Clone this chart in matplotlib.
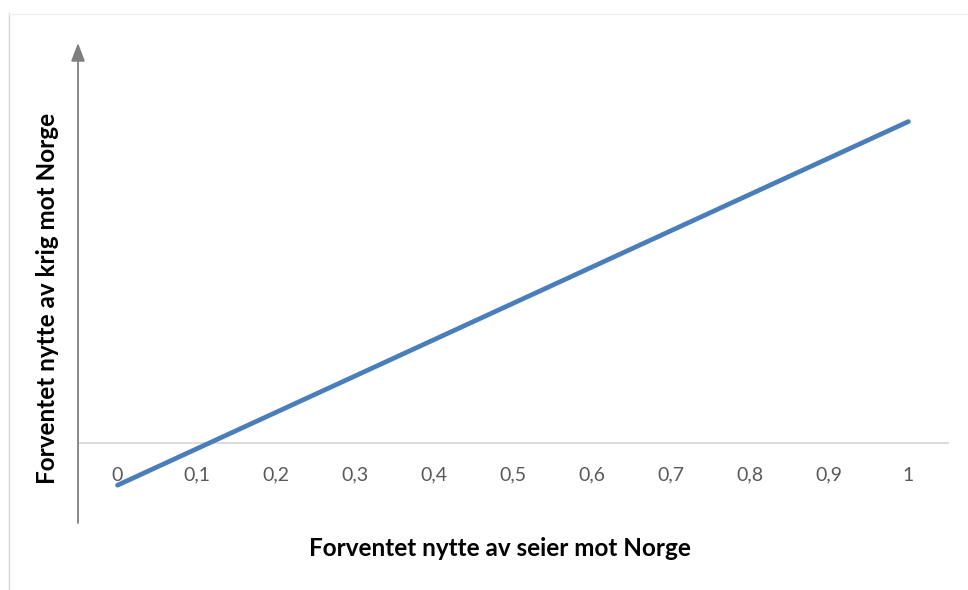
import matplotlib
matplotlib.use("Agg")
import matplotlib.pyplot as plt
from matplotlib.lines import Line2D

categories = ["0", "0,1", "0,2", "0,3", "0,4", "0,5", "0,6", "0,7", "0,8", "0,9", "1"]
values = [-1.16, -0.16, 0.84, 1.84, 2.84, 3.84, 4.84, 5.84, 6.84, 7.84, 8.84]
x_title = "Forventet nytte av seier mot Norge"
y_title = "Forventet nytte av krig mot Norge"

plt.rcParams['font.family'] = ['Lato', 'DejaVu Sans']

W, H = 968, 590
fig = plt.figure(figsize=(W / 100, H / 100), dpi=100)
ax = fig.add_axes([78 / W, 1 - 523 / H, (948 - 78) / W, (523 - 43) / H])

xs = list(range(len(categories)))
ax.plot(xs, values, color="#4a7ebb", linewidth=3.4, solid_capstyle="round", zorder=3)

ax.set_xlim(-0.5, len(categories) - 0.5)
ax.set_ylim(-2.2, 11.0)

for s in ["top", "right"]:
    ax.spines[s].set_visible(False)
ax.spines["left"].set_visible(False)
ax.spines["bottom"].set_position(("data", 0))
ax.spines["bottom"].set_color("#d9d9d9")
ax.spines["bottom"].set_linewidth(1.3)

ax.set_xticks(xs)
ax.set_xticklabels(categories)
ax.tick_params(axis="x", length=0, pad=17, labelsize=14, labelcolor="#595959")
ax.set_yticks([])

# vertical axis with arrow
ax.annotate("", xy=(0, 1.0), xycoords="axes fraction", xytext=(0, 0), textcoords="axes fraction",
            arrowprops=dict(arrowstyle="-|>,head_length=1.1,head_width=0.42", color="#7f7f7f",
                            lw=1.3, shrinkA=0, shrinkB=0))

fig.text(500 / W, 1 - 549 / H, x_title, ha="center", va="center", fontsize=17.5,
         fontweight="bold", color="black")
fig.text(48 / W, 1 - 298 / H, y_title, ha="center", va="center", rotation=90,
         fontsize=17.5, fontweight="bold", color="black")

# faint chart border
fig.add_artist(Line2D([8.5 / W, 8.5 / W], [0, 1 - 13 / H], transform=fig.transFigure,
                      color="#c9d7ec", lw=1.0))
fig.add_artist(Line2D([8.5 / W, 1], [1 - 13.5 / H, 1 - 13.5 / H], transform=fig.transFigure,
                      color="#f0f0f0", lw=1.0))

fig.savefig("out.png", dpi=100)
